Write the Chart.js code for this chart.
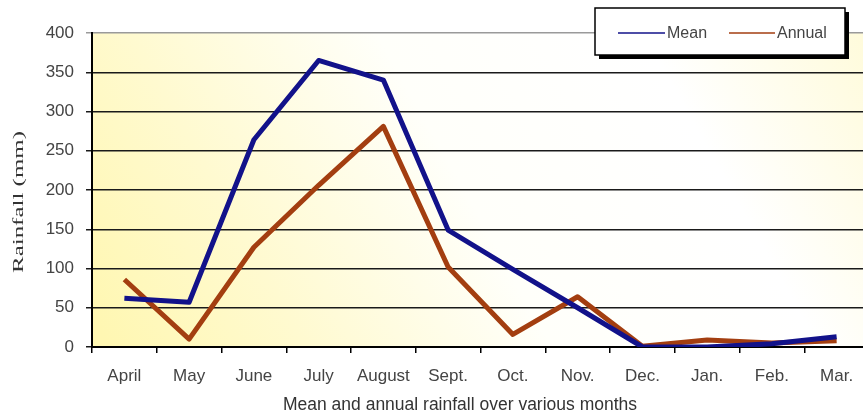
<!DOCTYPE html>
<html>
<head>
<meta charset="utf-8">
<script src="https://cdn.jsdelivr.net/npm/chart.js@4/dist/chart.umd.min.js"></script>
<style>
  html, body { margin: 0; padding: 0; background: #fff; overflow: hidden; }
  #wrap { position: relative; width: 869px; height: 417px; }
</style>
</head>
<body>
<div id="wrap"><canvas id="rain" width="869" height="417"></canvas></div>
<script>
// Monthly rainfall (mm), April to March
const categories = ['April', 'May', 'June', 'July', 'August', 'Sept.', 'Oct.', 'Nov.', 'Dec.', 'Jan.', 'Feb.', 'Mar.'];
const meanRain   = [62, 57, 264, 365, 340, 149, 99, 50, 0, 0, 4, 13];
const annualRain = [86, 10, 127, 206, 281, 102, 16, 64, 1, 9, 5, 8];
const yTickValues = [0, 50, 100, 150, 200, 250, 300, 350, 400];
const seriesNames = ['Mean', 'Annual'];
const xTitle = 'Mean and annual rainfall over various months';
const yTitle = 'Rainfall (mm)';

const SANS = "'Liberation Sans', Arial, sans-serif";
const SERIF = "'Liberation Serif', 'Times New Roman', serif";

// Plot background, boxed legend and the two axis titles
const decor = {
  id: 'decor',
  beforeDraw(chart) {
    const { ctx, chartArea: a } = chart;
    ctx.save();
    const g = ctx.createLinearGradient(150, 420, 900, 0);
    g.addColorStop(0, '#fff7b2');
    g.addColorStop(0.2, '#fffad0');
    g.addColorStop(0.45, '#fffffa');
    g.addColorStop(0.72, '#ffffff');
    g.addColorStop(1, '#fffad2');
    ctx.fillStyle = g;
    ctx.fillRect(a.left, a.top, a.right - a.left, a.bottom - a.top);
    ctx.restore();
  },
  afterDraw(chart) {
    const { ctx } = chart;
    ctx.save();

    // legend box with drop shadow
    const bx = 595, by = 8, bw = 250, bh = 47;
    ctx.fillStyle = '#000';
    ctx.fillRect(bx + 4, by + 4, bw, bh);
    ctx.fillStyle = '#fff';
    ctx.fillRect(bx, by, bw, bh);
    ctx.strokeStyle = '#000';
    ctx.lineWidth = 1.5;
    ctx.strokeRect(bx, by, bw, bh);

    const ly = 33;
    const entries = [{ x0: 618, x1: 665 }, { x0: 729, x1: 775 }];
    ctx.font = '16px ' + SANS;
    ctx.textBaseline = 'middle';
    ctx.textAlign = 'left';
    chart.data.datasets.forEach((ds, i) => {
      const e = entries[i];
      ctx.strokeStyle = ds.borderColor;
      ctx.lineWidth = 1.5;
      ctx.beginPath();
      ctx.moveTo(e.x0, ly);
      ctx.lineTo(e.x1, ly);
      ctx.stroke();
      ctx.fillStyle = '#444';
      ctx.fillText(ds.label, e.x1 + 2, ly + 1);
    });

    // x-axis title
    ctx.fillStyle = '#333';
    ctx.font = '17.5px ' + SANS;
    ctx.textAlign = 'center';
    ctx.textBaseline = 'alphabetic';
    ctx.fillText(xTitle, 460, 410);

    // y-axis title, serif, stretched along its baseline
    ctx.font = '15px ' + SERIF;
    const w = ctx.measureText(yTitle).width;
    const stretch = 142 / w;
    ctx.translate(23, 202);
    ctx.rotate(-Math.PI / 2);
    ctx.scale(stretch, 1);
    ctx.textAlign = 'center';
    ctx.fillText(yTitle, 0, 0);
    ctx.restore();
  }
};

new Chart(document.getElementById('rain'), {
  type: 'line',
  data: {
    labels: categories,
    datasets: [
      { label: seriesNames[0], data: meanRain, borderColor: '#12128a', borderWidth: 5,
        pointRadius: 0, tension: 0, fill: false, borderJoinStyle: 'round' },
      { label: seriesNames[1], data: annualRain, borderColor: '#a33e10', borderWidth: 5,
        pointRadius: 0, tension: 0, fill: false, borderJoinStyle: 'round' }
    ]
  },
  options: {
    responsive: false,
    animation: false,
    devicePixelRatio: 1,
    layout: { padding: { top: 33, left: 0, right: 0, bottom: 0 } },
    plugins: { legend: { display: false }, tooltip: { enabled: false } },
    scales: {
      x: {
        offset: true,
        afterFit(scale) { scale.height = 70; },
        grid: { offset: true, drawOnChartArea: false, drawTicks: true, tickLength: 6, color: '#000', lineWidth: 1.5 },
        border: { display: true, color: '#000', width: 2 },
        ticks: { autoSkip: false, maxRotation: 0, padding: 13, color: '#444', font: { family: SANS, size: 17 } }
      },
      y: {
        min: 0,
        max: 400,
        afterFit(scale) { scale.width = 92; },
        afterBuildTicks(scale) { scale.ticks = yTickValues.map(v => ({ value: v })); },
        grid: {
          color: ctx => (ctx.tick && ctx.tick.value === 400 ? '#9a9a9a' : '#1a1a1a'),
          lineWidth: 1.5, tickLength: 6, drawTicks: true
        },
        border: { display: true, color: '#000', width: 2 },
        ticks: { padding: 12, color: '#444', font: { family: SANS, size: 17 } }
      }
    }
  },
  plugins: [decor]
});
</script>
</body>
</html>
